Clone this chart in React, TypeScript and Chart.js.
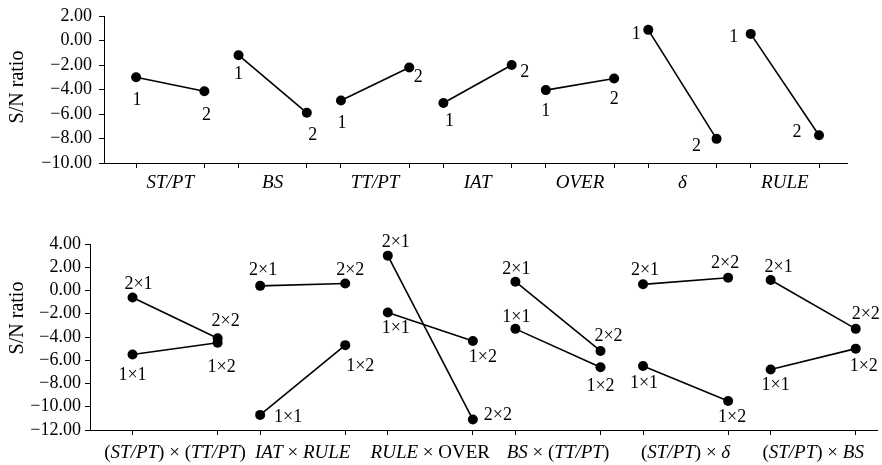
import React, { useEffect, useRef } from 'react';
import { Chart, registerables } from 'chart.js';

Chart.register(...registerables);

const FONT = '"Liberation Serif", "Times New Roman", serif';

// ---------- Top panel: main effects (level 1 -> level 2) ----------
const topFactors = ['*ST/PT*', '*BS*', '*TT/PT*', '*IAT*', '*OVER*', '*δ*', '*RULE*'];
const topLevel1 = [-3.0, -1.2, -4.9, -5.1, -4.05, 0.87, 0.54];
const topLevel2 = [-4.15, -5.9, -2.2, -2.0, -3.1, -8.03, -7.73];
const topYMin = -10;
const topYMax = 2;

// ---------- Bottom panel: interactions ----------
const interactions = [
  '(*ST/PT*) × (*TT/PT*)',
  '*IAT* × *RULE*',
  '*RULE* × OVER',
  '*BS* × (*TT/PT*)',
  '(*ST/PT*) × *δ*',
  '(*ST/PT*) × *BS*',
];
const level2x1 = [-0.6, 0.4, 3.0, 0.76, 0.53, 0.9];
const level2x2 = [-4.1, 0.6, -11.1, -5.2, 1.1, -3.3];
const level1x1 = [-5.5, -10.7, -1.9, -3.3, -6.5, -6.8];
const level1x2 = [-4.5, -4.7, -4.35, -6.6, -9.5, -5.0];
const botYMin = -12;
const botYMax = 4;

// label placement (pixel offsets of the level labels from their points)
const topOff1 = [[1, 23], [0, 19], [1, 23], [6, 18], [0, 21], [-12, 4], [-17, 3]];
const topOff2 = [[2, 24], [6, 22], [9, 10], [13, 7], [0, 21], [-20, 7], [-22, -3]];
const off2x1 = [[6, -13], [3, -16], [8, -13], [1, -12], [2, -14], [8, -13]];
const off2x2 = [[8, -17], [5, -13], [25, -4], [8, -15], [-3, -14], [10, -15]];
const off1x1 = [[0, 21], [28, 2], [8, 16], [1, -12], [1, 17], [5, 16]];
const off1x2 = [[4, 24], [15, 21], [10, 16], [0, 19], [4, 16], [8, 18]];

function fmt(v: number) {
  const s = Math.abs(v).toFixed(2);
  return (v < 0 ? '\u2212' : '') + s;
}

function drawMixed(ctx: CanvasRenderingContext2D, text: string, cx: number, cy: number, size: number) {
  const parts = text.split('*');
  const fonts = parts.map((_, i) => (i % 2 === 1 ? `italic ${size}px ${FONT}` : `${size}px ${FONT}`));
  let total = 0;
  const widths = parts.map((p, i) => {
    ctx.font = fonts[i];
    const w = ctx.measureText(p).width;
    total += w;
    return w;
  });
  let x = cx - total / 2;
  ctx.textAlign = 'left';
  ctx.textBaseline = 'middle';
  parts.forEach((p, i) => {
    ctx.font = fonts[i];
    ctx.fillText(p, x, cy);
    x += widths[i];
  });
}

const customPlugin = {
  id: 'custom',
  afterDraw(chart: any) {
    const opts = chart.options.plugins.custom;
    const ctx: CanvasRenderingContext2D = chart.ctx;
    ctx.save();
    ctx.fillStyle = '#000';
    // point labels
    chart.data.datasets.forEach((ds: any, di: number) => {
      const meta = chart.getDatasetMeta(di);
      meta.data.forEach((el: any, pi: number) => {
        const off = ds.labelOffsets[pi];
        ctx.font = `${opts.pointLabelSize}px ${FONT}`;
        ctx.textAlign = 'center';
        ctx.textBaseline = 'middle';
        ctx.fillText(ds.pointLabels[pi], el.x + off[0], el.y + off[1]);
      });
    });
    // category labels
    const xs = chart.scales.x;
    opts.categories.forEach((c: string, i: number) => {
      const px = xs.getPixelForValue(3 * i + 1);
      drawMixed(ctx, c, px, chart.chartArea.bottom + opts.catOffset, opts.catSize);
    });
    // y title
    ctx.translate(opts.titleX, opts.titleY);
    ctx.rotate(-Math.PI / 2);
    ctx.font = `${opts.titleSize}px ${FONT}`;
    ctx.textAlign = 'center';
    ctx.textBaseline = 'middle';
    ctx.fillText('S/N ratio', 0, 0);
    ctx.restore();
  },
};

function pairDataset(i: number, a: number, b: number, labels: string[], offsets: number[][]) {
  return {
    data: [
      { x: 3 * i, y: a },
      { x: 3 * i + 2, y: b },
    ],
    pointLabels: labels,
    labelOffsets: offsets,
    showLine: true,
    borderColor: '#000',
    borderWidth: 1.6,
    pointRadius: 5,
    pointBackgroundColor: '#000',
    pointBorderWidth: 0,
    pointHoverRadius: 5,
  };
}

function makeConfig(p: {
  datasets: any[];
  yMin: number;
  yMax: number;
  xMin: number;
  xMax: number;
  nTicks: number;
  yWidth: number;
  xHeight: number;
  padTop: number;
  padRight: number;
  yPad: number;
  categories: string[];
  catOffset: number;
  titleY: number;
}) {
  return {
    type: 'scatter' as const,
    data: { datasets: p.datasets },
    plugins: [customPlugin],
    options: {
      animation: false,
      responsive: false,
      events: [],
      layout: { padding: { top: p.padTop, right: p.padRight, left: 0, bottom: 0 } },
      plugins: {
        legend: { display: false },
        tooltip: { enabled: false },
        custom: {
          categories: p.categories,
          catOffset: p.catOffset,
          catSize: 19,
          pointLabelSize: 18,
          titleX: 17.5,
          titleY: p.titleY,
          titleSize: 20,
        },
      },
      scales: {
        x: {
          type: 'linear',
          min: p.xMin,
          max: p.xMax,
          afterBuildTicks: (s: any) => {
            s.ticks = Array.from({ length: p.nTicks }, (_, k) => ({ value: k }));
          },
          afterFit: (s: any) => {
            s.height = p.xHeight;
          },
          grid: {
            drawOnChartArea: false,
            drawTicks: true,
            tickLength: 5,
            tickColor: (c: any) => (c.tick && c.tick.value % 3 === 1 ? 'rgba(0,0,0,0)' : '#000'),
            tickWidth: 1,
          },
          border: { display: true, color: '#000', width: 1 },
          ticks: { display: false },
        },
        y: {
          type: 'linear',
          min: p.yMin,
          max: p.yMax,
          afterFit: (s: any) => {
            s.width = p.yWidth;
          },
          grid: {
            drawOnChartArea: false,
            drawTicks: true,
            tickLength: 5,
            tickColor: '#000',
          },
          border: { display: true, color: '#000', width: 1 },
          ticks: {
            stepSize: 2,
            autoSkip: false,
            padding: p.yPad,
            color: '#000',
            font: { family: FONT, size: 18, lineHeight: 1 },
            callback: (v: any) => fmt(Number(v)),
          },
        },
      },
    },
  };
}

function Panel(props: { width: number; height: number; top: number; config: any }) {
  const ref = useRef<HTMLCanvasElement>(null);
  useEffect(() => {
    const chart = new Chart(ref.current as HTMLCanvasElement, props.config);
    return () => chart.destroy();
  }, []);
  return (
    <div style={{ position: 'absolute', left: 0, top: props.top, width: props.width, height: props.height }}>
      <canvas ref={ref} width={props.width} height={props.height} style={{ display: 'block' }} />
    </div>
  );
}

export default function App() {
  const topDatasets = topFactors.map((_, i) =>
    pairDataset(i, topLevel1[i], topLevel2[i], ['1', '2'], [topOff1[i], topOff2[i]])
  );
  const botDatasets: any[] = [];
  interactions.forEach((_, i) => {
    botDatasets.push(pairDataset(i, level2x1[i], level2x2[i], ['2×1', '2×2'], [off2x1[i], off2x2[i]]));
    botDatasets.push(pairDataset(i, level1x1[i], level1x2[i], ['1×1', '1×2'], [off1x1[i], off1x2[i]]));
  });

  const topConfig = makeConfig({
    datasets: topDatasets,
    yMin: topYMin,
    yMax: topYMax,
    xMin: -0.94,
    xMax: 20.82,
    nTicks: 21,
    yWidth: 104,
    xHeight: 37,
    padTop: 15,
    padRight: 35,
    yPad: 7,
    categories: topFactors,
    catOffset: 20,
    titleY: 87,
  });
  const botConfig = makeConfig({
    datasets: botDatasets,
    yMin: botYMin,
    yMax: botYMax,
    xMin: -1.0,
    xMax: 17.5,
    nTicks: 18,
    yWidth: 90,
    xHeight: 35,
    padTop: 24,
    padRight: 0,
    yPad: 4,
    categories: interactions,
    catOffset: 23,
    titleY: 98,
  });

  return (
    <div style={{ position: 'fixed', left: 0, top: 0, width: 882, height: 465, background: '#fff', overflow: 'hidden' }}>
      <Panel width={882} height={200} top={0} config={topConfig} />
      <Panel width={882} height={245} top={220} config={botConfig} />
    </div>
  );
}
